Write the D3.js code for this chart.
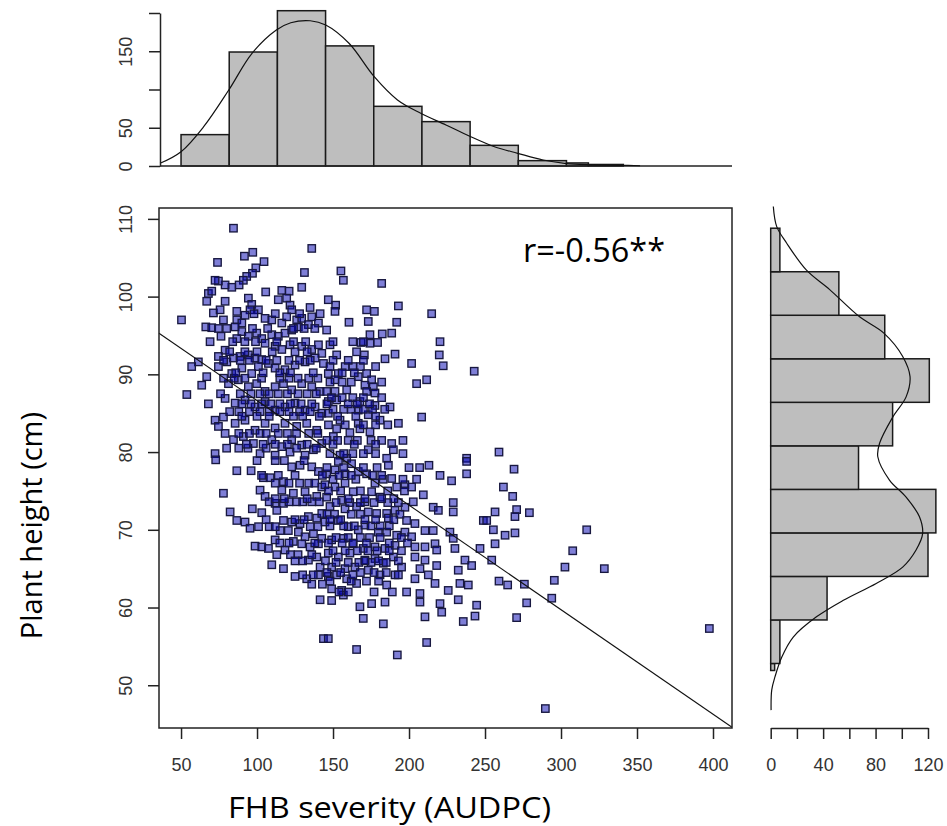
<!DOCTYPE html>
<html>
<head>
<meta charset="utf-8">
<script src="https://cdnjs.cloudflare.com/ajax/libs/d3/7.8.5/d3.min.js"></script>
<style>
  body { margin: 0; background: #fff; }
  svg { display: block; background: #fff; }
</style>
</head>
<body>
<svg id="chart" width="947" height="826"></svg>
<script>
// axis ticks
var xTicks = [50, 100, 150, 200, 250, 300, 350, 400];
var yTicks = [50, 60, 70, 80, 90, 100, 110];
var topTicks = [0, 50, 100, 150, 200];
var topTickLabels = [0, 50, 150];
var rightTicks = [0, 20, 40, 60, 80, 100, 120];
var rightTickLabels = [0, 40, 80, 120];

// top histogram (FHB severity)
var topBreaks = [50, 81.7, 113.4, 145.1, 176.8, 208.5, 240.2, 271.9, 303.6, 318, 341];
var topCounts = [41, 149, 203, 157, 78, 58, 27, 7, 4, 2];
var topCurveX = [36.2, 50, 64.9, 81.4, 96.7, 112.7, 122.2, 135, 145.2, 160.5, 177.1, 192.4, 207.7, 224.3, 239.6, 256.2, 271.5, 288.2, 302.4, 316.8, 340.1, 352];
var topCurveY = [3.5, 18.7, 51.4, 99.3, 147.3, 177.8, 187.3, 189.9, 184.3, 160.4, 116.7, 86.3, 68.9, 53.6, 39.2, 25.2, 16.6, 7.8, 3.5, 1.7, 0.9, 0.3];

// right histogram (plant height)
var rightBreaks = [51.9, 52.8, 58.4, 64.0, 69.6, 75.2, 80.8, 86.4, 92.0, 97.6, 103.2, 108.8];
var rightCounts = [3, 7, 43, 120, 126, 67, 93, 121, 87, 52, 7];
var rightCurveY = [111.6, 109.0, 106.9, 103.4, 100.9, 97.4, 95.3, 92.3, 89.7, 87.1, 84.5, 81.1, 79.4, 76.4, 74.2, 71.7, 69.5, 67.4, 65.2, 63.1, 60.9, 58.8, 56.2, 53.6, 51.1, 49.4, 46.8];
var rightCurveX = [2, 4.6, 12.1, 27.3, 45, 67.8, 86.3, 100.7, 106.3, 103.3, 93.1, 83, 81.7, 90.6, 103.3, 113.4, 115.9, 110.9, 100.7, 80.5, 55.1, 34.9, 17.2, 8.4, 3.3, 0.8, 0.3];

// regression line
var lineIntercept = 100.07;
var lineSlope = -0.1345;
var rLabel = "r=-0.56**";

// scatter: [FHB severity (AUDPC), plant height (cm)]
var scatterPoints = [
  [84.5,108.8],[136,106.2],[97.2,105.7],[91.7,105.2],[104.6,104.5],[74,104.4],[131.2,103.1],
  [99.2,103.7],[97,103],[93.2,102.6],[91,102.1],[88.2,101.5],[83.4,101.2],[79,101.5],[74.6,102],[72.4,102.1],
  [129.4,101.2],[105.7,100.6],[116.3,100.8],[121.1,100.7],[119.5,99.8],[114,99.6],[121.7,98.9],[122.8,98.3],
  [68,100.4],[70.2,100.7],[66.9,99.4],[79,99.4],
  [94.3,99.8],[96.5,99],[100.9,98.3],[95.4,98.3],[92.1,97.6],
  [134.9,98.6],[141.5,97.8],[136,97.4],
  [71.3,97.9],[75.7,98.3],[77.9,97],
  [50.3,97],
  [86.7,98.1],[86.7,97],[90,96.6],
  [105.3,97.2],[109.7,97],[116.3,96.6],[119.5,97.4],[126.1,97],[129.4,97.2],
  [66.3,96.1],[70.2,96],[74.6,95.9],[76.3,94.9],[69.1,94.2],
  [85.6,96.1],[90,95.5],[86.7,94.6],[94.3,94.9],[99.8,95.3],[103.1,94.6],[109.7,95.1],[114,94.9],[118.4,95.3],[122.8,95.7],[127.2,96.1],[133.8,96.4],[140.4,96.6],
  [121.7,93.8],[129.4,93.6],[136,93.2],[140.4,93.8],[142.6,92.7],
  [105.3,94],[111.9,93.6],[116.3,93.2],
  [79,93.1],[74.6,92.3],[80.1,91.6],[84.5,92.1],[88.8,92.3],[94.3,92.5],[98.7,92.1],[103.1,91.9],
  [61.4,91.6],[57,91],[66.9,89.7],[63.6,88.6],[53.8,87.4],[68,86.2],
  [74.6,91],[83.4,90.1],[90,90.8],[96.5,90.1],[100.9,91],[107.5,91.4],[111.9,90.8],[118.4,90.6],[125,91.2],[131.6,91.6],[138.2,92.1],[143.7,91.4],
  [81.2,88.8],[87.7,89.3],[94.3,88.4],[99.8,88.8],[105.3,87.8],[111.9,88.4],[117.4,88.8],[122.8,88],[129.4,88.8],[136,88.4],[141.5,87.8],
  [79,86.9],[85.6,86.3],[92.1,86.7],[98.7,85.8],[105.3,86.5],[111.9,85.4],[118.4,85.8],[125,86.3],[131.6,85.4],[138.2,85.8],[142.6,85],
  [72.4,84.1],[77.9,84.5],[85.6,83.7],[92.1,84.1],[98.7,82.8],[105.3,83.7],[111.9,83.1],[118.4,83.7],[126.1,83.3],[132.7,83.7],[139.3,82.8],
  [74.6,83.3],[84.5,81.6],[91,82],[97.6,81.1],[109.7,81.6],[116.3,80.7],[122.8,81.6],[129.4,80.9],[137.1,80.3],[142.6,81.1],
  [72.4,79.8],[102,79.8],[111.9,79.6],[121.7,80],[131.6,79.6],
  [80,95.9],[97,95.9],[107,95.9],[124,95.9],[131,95.9],[138,95.9],
  [82,92.9],[92,92.9],[100,92.9],[110,92.9],[125,92.9],[133,92.9],
  [78,89.5],[85,89.5],[92,89.5],[103,89.5],[115,89.5],[121,89.5],[127,89.5],[134,89.5],[140,89.5],
  [76,87.5],[89,87.5],[96,87.5],[102,87.5],[108,87.5],[114,87.5],[120,87.5],[127,87.5],[133,87.5],[139,87.5],
  [82,85.2],[88,85.2],[95,85.2],[102,85.2],[108,85.2],[115,85.2],[121,85.2],[128,85.2],[135,85.2],
  [79,82.4],[88,82.4],[95,82.4],[102,82.4],[106,82.4],[114,82.4],[120,82.4],[126,82.4],[134,82.4],[140,82.4],
  [80,80.5],[88,80.5],[94,80.5],[106,80.5],[126,80.5],[139,80.5],
  [72.8,79],[86.7,77.6],[96.1,77.6],[104.2,76.7],[108.6,76.7],[117.4,76.2],[122.8,78.1],[128.3,78.3],[136,78.1],[140.4,77.5],
  [77.9,74.7],[102,75.1],[105.3,74.3],[116.3,75.1],[123.9,74.7],[131.6,74.9],[139.3,74.3],[142.6,75.5],
  [82.3,72.3],[96.9,72.7],[103.1,72.2],[111.9,73.4],[117.4,73.4],[113,72.5],
  [86.7,71.2],[92.1,71],[95.4,70.2],
  [117.4,71.2],[122.8,71],[128.3,70.8],[133.8,71.7],[139.3,71.5],[142.6,72.1],
  [115.2,69.9],[120.6,69.9],[127.2,69.7],[131.6,69.1],[137.1,69.5],[142.6,68.9],
  [98.7,67.9],[103.1,67.8],[107.5,67.6],[111.9,68.7],[118.4,67.4],[123.9,68.5],[129.4,68.2],[134.9,67.8],[140.4,68.2],
  [109.7,65.5],[117.4,65],[133.8,66.1],[141.5,65.2],[139.3,66.5],
  [125,64],[132.7,63.7],[140.4,64.2],
  [141.5,61],[143.7,56],
  [100,78.9],[112,78.9],[118,78.9],[131,78.9],
  [112,76],[121,76],[128,76],[134,76],[138,76],
  [108,73.6],[121,73.6],[126,73.6],[130,73.6],[136,73.6],[141,73.6],
  [101,70.4],[108,70.4],[112,70.4],[135,70.4],[140,70.4],
  [113,66.8],[122,66.8],[127,66.8],[136,66.8],
  [136,63],[143,63],
  [155.2,103.3],[156.8,102.1],[182,101.7],
  [146.9,99.6],[151.7,98.9],[151.3,98.1],
  [172.1,98.3],[177.2,98.1],[193,98.8],[214.9,97.8],
  [160.5,96.7],[173.2,96.8],[191.9,96.7],
  [145.8,95.7],[174.3,95.1],[182.4,95.2],[188.6,95.3],[168.4,94.1],[174.3,94],[179.3,94.1],
  [148,93.8],[152.4,92.5],[165.5,92.9],[170.6,92.5],[184.2,92],[190.8,92.6],
  [220.4,94.2],[219.9,92.5],[222.5,91.1],[242.9,90.4],[201.7,91.4],[211.6,89.3],[205,88.8],
  [146.9,90.1],[153.5,90.1],[151.3,89.3],[166.6,89.7],[172.1,90.1],[175.4,89.3],[176.5,88.4],[171,88.6],
  [145.8,87.8],[151.3,87.8],[159,88],[146.9,86.5],[152.4,86.7],[172.1,87.8],[177.6,87.6],
  [167.7,86.5],[166.6,85.4],[177.6,86],[187.5,85.8],[208.3,84.5],[173.2,84.8],[180.9,84.1],[193,83.7],
  [146.9,85],[154.6,84.1],[152.4,83],[166.6,83.7],[161.1,82.5],[174.3,82.6],[167.7,83],
  [150.2,82],[160,81.5],[188.6,81.1],[189.7,80.3],[173.2,80.3],[237.9,79.2],[154.6,79.6],[159,79.2],[185.3,79.2],
  [148,91],[158,91],[163,91],[168,91],[178,91],
  [148,89],[156,89],[162,89],[182,89],
  [149,87],[156,87],[163,87],[170,87],[182,87],
  [150,85.5],[157,85.5],[162,85.5],[170,85.5],[176,85.5],[184,85.5],
  [147,83.5],[158,83.5],[170,83.5],[178,83.5],[186,83.5],
  [146,81.5],[153,81.5],[166,81.5],[175,81.5],[182,81.5],[196,81.5],
  [148,79.8],[157,79.8],[163,79.8],[170,79.8],[178,79.8],[196,79.8],
  [153.5,78.8],[162.2,78.5],[186.4,78.3],[213.1,78.3],[220.4,77],[228,76.3],[237.9,77.2],[237.9,78.8],
  [145.8,77.2],[151.3,77.7],[157.9,77.2],[166.6,77.5],[172.1,77.2],[177.6,76],[188.6,76.6],[191.9,75.5],[197.3,75.8],[201.7,75.5],
  [144.7,75.8],[151.3,75.5],[157.9,76],[163.3,74.9],[175.4,74.9],[180.9,74.2],[171,73.6],
  [145.8,74.2],[148,73],[155.7,73.8],[157.9,72.7],[165.5,73],[173.2,72.3],[178.7,72.1],
  [185.3,72.1],[190.8,72.5],[197.3,72.9],[202.8,73.6],[209.4,74.5],[215.9,72.9],[219.3,72.5],[229.1,73.5],[229.1,72.3],[248.9,71.2],
  [186.4,71.5],[198.4,71.2],[203.9,70.8],[210.5,69.9],[215.9,69.9],[226.9,69.7],[229.1,68.9],[246.7,67.6],
  [144.7,71],[153.5,71.2],[160,70.4],[166.6,70],[171,70.6],[179.8,69.7],[185.3,69.7],[191.9,69.3],[197.3,69.7],[201.7,69.1],
  [149.1,68.7],[156.8,68.9],[163.3,68.2],[169.9,67.6],[177.6,67.8],[184.2,67.6],[190.8,68],[203.9,67.8],[210.5,67.8],[217.1,68.2],[218.2,67.4],[230.2,67.6],
  [146.9,67],[153.5,66.5],[161.1,67],[171,66.1],[177.6,66.3],[183.1,65.7],[189.7,66.5],[203.9,66.5],[210.5,66.1],[218.2,65.4],[232.4,64.8],[236.8,66.1],[241.2,65.4],
  [149.1,65.2],[157.9,65],[164.4,65.2],[173.2,64.8],[180.9,64.2],[195.1,65.2],[207.2,65],[212.7,64.2],[217.1,63.1],[233.5,63.1],[239,62.9],
  [146.9,64],[152.4,64.2],[159,63.7],[165.5,63.1],[185.3,62.9],[190.8,64.2],[203.9,63.7],[198.4,62],[207.2,61.8],[225.8,62.2],[232.4,61],[244.5,60.3],[243.4,58.9],
  [149.1,62.4],[155.7,62.2],[149.1,60.9],[156.8,61.6],[167.7,60.1],[175.4,60.5],[184.2,60.7],[169.9,58.6],[183.1,57.9],[207.2,60.7],[210.5,58.8],[220.4,60.5],[221.5,59.4],[235.7,58.2],
  [146.9,56],[165.5,54.6],[192.3,53.9],[211.6,55.5],
  [146,78],[157,78],[170,78],[179,78],[200,78],[207,78],
  [150,76.5],[165,76.5],[183,76.5],[196,76.5],[205,76.5],
  [147,75],[155,75],[168,75],[186,75],[197,75],
  [152,73.5],[161,73.5],[168,73.5],[177,73.5],[186,73.5],[193,73.5],
  [146,72],[151,72],[162,72],[168,72],[194,72],
  [148,70.5],[157,70.5],[164,70.5],[175,70.5],[181,70.5],[187,70.5],
  [152,69],[160,69],[168,69],[174,69],[181,69],[195,69],
  [150,67.3],[158,67.3],[166,67.3],[173,67.3],[179,67.3],[187,67.3],[195,67.3],
  [152,65.8],[160,65.8],[167,65.8],[175,65.8],[185,65.8],
  [146,64.5],[155,64.5],[168,64.5],[177,64.5],[185,64.5],
  [148,63.4],[162,63.4],[172,63.4],[180,63.4],
  [154,62],[160,62],[177,62],[189,62],
  [98,97.8],[112,97.8],[128,97.8],
  [84,94.2],[92,94.2],[99,94.2],[113,94.2],[124,94.2],[132,94.2],[150,94.2],[163,94.2],[170,94.2],
  [78,91.8],[89,91.8],[95,91.8],[106,91.8],[113,91.8],[121,91.8],[128,91.8],[135,91.8],[150,91.8],[160,91.8],[170,91.8],
  [86,90.2],[104,90.2],[115,90.2],[122,90.2],[137,90.2],[156,90.2],[164,90.2],
  [90,86.2],[96,86.2],[103,86.2],[109,86.2],[115,86.2],[122,86.2],[129,86.2],[136,86.2],[146,86.2],[160,86.2],[166,86.2],[174,86.2],
  [90,84.6],[100,84.6],[108,84.6],[124,84.6],[130,84.6],[141,84.6],[153,84.6],[165,84.6],[178,84.6],
  [93,81],[104,81],[112,81],[120,81],[133,81],[150,81],[164,81],[178,81],
  [103,77],[114,77],[125,77],[143,77],[154,77],[162,77],[176,77],[182,77],
  [112,74],[118,74],[133,74],[160,74],[171,74],[182,74],[190,74],
  [106,71.3],[125,71.3],[131,71.3],[148,71.3],[155,71.3],[171,71.3],[178,71.3],[190,71.3],
  [115,68.3],[121,68.3],[138,68.3],[147,68.3],[156,68.3],[163,68.3],[172,68.3],[187,68.3],[199,68.3],
  [125,66],[130,66],[145,66],[171,66],[180,66],[193,66],
  [130,64.2],[137,64.2],[163,64.2],[193,64.2],
  [259.2,80],[269.1,77.8],[262.1,75.5],[268.2,74.3],[256.6,72.3],[270.8,72.6],[269.7,71.7],[279.2,72.2],
  [316.9,70],[255.5,70],[269.7,69.6],[263.2,69.3],[256.6,68.2],[251.1,71.2],[307.7,67.3],[302.6,65.2],
  [328.5,65],[254.4,66.1],[259.2,63.4],[264.9,62.9],[275.9,63],[295.6,63.5],[277.4,60.6],[293.9,61.2],
  [270.8,58.7],[397.6,57.3],[289.7,47]
];

var svg = d3.select("#chart");
var tickFont = "'Liberation Sans', Arial, sans-serif";
var titleFont = "'Open Sans', 'Noto Sans', sans-serif";

// scales
var x = d3.scaleLinear().domain([35.5, 412.5]).range([159, 732]);
var y = d3.scaleLinear().domain([44.5, 111.4]).range([728, 208]);
var yTop = d3.scaleLinear().domain([0, 200]).range([166, 13]);
var xRight = d3.scaleLinear().domain([0, 120]).range([770.7, 928]);

function styleAxis(g) {
  g.selectAll("path.domain").attr("stroke", "#222").attr("stroke-width", 1.5);
  g.selectAll(".tick line").attr("stroke", "#222").attr("stroke-width", 1.5);
  g.selectAll(".tick text").attr("fill", "#333")
    .style("font-family", tickFont).style("font-size", "18px");
}

// ---------- top histogram ----------
var topBins = topCounts.map(function (c, i) {
  return { x0: topBreaks[i], x1: topBreaks[i + 1], n: c };
});
svg.append("g").selectAll("rect")
  .data(topBins).enter().append("rect")
  .attr("x", function (d) { return x(d.x0); })
  .attr("y", function (d) { return yTop(d.n); })
  .attr("width", function (d) { return x(d.x1) - x(d.x0); })
  .attr("height", function (d) { return yTop(0) - yTop(d.n); })
  .attr("fill", "#bebebe").attr("stroke", "#1a1a1a").attr("stroke-width", 1.5);

svg.append("line")
  .attr("x1", x.range()[0] + 1).attr("x2", x.range()[1])
  .attr("y1", yTop(0)).attr("y2", yTop(0))
  .attr("stroke", "#222").attr("stroke-width", 1.5);

svg.append("path")
  .datum(topCurveX.map(function (v, i) { return [v, topCurveY[i]]; }))
  .attr("fill", "none").attr("stroke", "#111").attr("stroke-width", 1.2)
  .attr("d", d3.line().curve(d3.curveCatmullRom)
    .x(function (d) { return x(d[0]); })
    .y(function (d) { return yTop(d[1]); }));

var topAxis = svg.append("g").attr("transform", "translate(160,0)")
  .call(d3.axisLeft(yTop).tickValues(topTicks).tickSize(11).tickSizeOuter(0)
    .tickFormat(function (d) { return topTickLabels.indexOf(d) >= 0 ? d : ""; }));
styleAxis(topAxis);
topAxis.selectAll(".tick text")
  .attr("x", null).attr("dy", "0.35em").attr("text-anchor", "middle")
  .attr("transform", "translate(-34,0) rotate(-90)");

// ---------- main scatter ----------
svg.append("g").selectAll("rect")
  .data(scatterPoints).enter().append("rect")
  .attr("x", function (d) { return x(d[0]) - 3.7; })
  .attr("y", function (d) { return y(d[1]) - 3.7; })
  .attr("width", 7.4).attr("height", 7.4)
  .attr("fill", "rgba(0,0,175,0.5)")
  .attr("stroke", "#181840").attr("stroke-width", 1.35);

svg.append("line")
  .attr("x1", x(x.domain()[0])).attr("y1", y(lineIntercept + lineSlope * x.domain()[0]))
  .attr("x2", x(x.domain()[1])).attr("y2", y(lineIntercept + lineSlope * x.domain()[1]))
  .attr("stroke", "#111").attr("stroke-width", 1.1);

svg.append("rect")
  .attr("x", 159).attr("y", 208).attr("width", 732 - 159).attr("height", 728 - 208)
  .attr("fill", "none").attr("stroke", "#222").attr("stroke-width", 1.5);

var xAxis = svg.append("g").attr("transform", "translate(0,728)")
  .call(d3.axisBottom(x).tickValues(xTicks).tickSize(11).tickPadding(19.5).tickSizeOuter(0));
xAxis.select("path.domain").remove();
styleAxis(xAxis);

var yAxis = svg.append("g").attr("transform", "translate(159,0)")
  .call(d3.axisLeft(y).tickValues(yTicks).tickSize(11).tickSizeOuter(0));
yAxis.select("path.domain").remove();
styleAxis(yAxis);
yAxis.selectAll(".tick text")
  .attr("x", null).attr("dy", "0.35em").attr("text-anchor", "middle")
  .attr("transform", "translate(-33,0) rotate(-90)");

svg.append("text")
  .attr("x", 523).attr("y", 262)
  .attr("textLength", 142).attr("lengthAdjust", "spacingAndGlyphs")
  .style("font-family", titleFont).style("font-size", "32px").attr("fill", "#000")
  .text(rLabel);

// ---------- right histogram ----------
var rightBins = rightCounts.map(function (c, i) {
  return { y0: rightBreaks[i], y1: rightBreaks[i + 1], n: c };
});
svg.append("g").selectAll("rect")
  .data(rightBins).enter().append("rect")
  .attr("x", xRight(0))
  .attr("y", function (d) { return y(d.y1); })
  .attr("width", function (d) { return xRight(d.n) - xRight(0); })
  .attr("height", function (d) { return y(d.y0) - y(d.y1); })
  .attr("fill", "#bebebe").attr("stroke", "#1a1a1a").attr("stroke-width", 1.5);

svg.append("path")
  .datum(rightCurveY.map(function (v, i) { return [rightCurveX[i], v]; }))
  .attr("fill", "none").attr("stroke", "#111").attr("stroke-width", 1.2)
  .attr("d", d3.line().curve(d3.curveCatmullRom)
    .x(function (d) { return xRight(d[0]); })
    .y(function (d) { return y(d[1]); }));

var rAxis = svg.append("g").attr("transform", "translate(0,728)")
  .call(d3.axisBottom(xRight).tickValues(rightTicks).tickSize(11).tickPadding(19.5).tickSizeOuter(0)
    .tickFormat(function (d) { return rightTickLabels.indexOf(d) >= 0 ? d : ""; }));
styleAxis(rAxis);

// ---------- titles ----------
svg.append("text")
  .attr("x", 228).attr("y", 818)
  .attr("textLength", 323).attr("lengthAdjust", "spacingAndGlyphs")
  .style("font-family", titleFont).style("font-size", "29px").attr("fill", "#000")
  .text("FHB severity (AUDPC)");

svg.append("text")
  .attr("transform", "translate(42,412) rotate(-90)")
  .attr("text-anchor", "end")
  .style("font-family", titleFont).style("font-size", "29px").attr("fill", "#000")
  .text("Plant height (cm)");
</script>
</body>
</html>
